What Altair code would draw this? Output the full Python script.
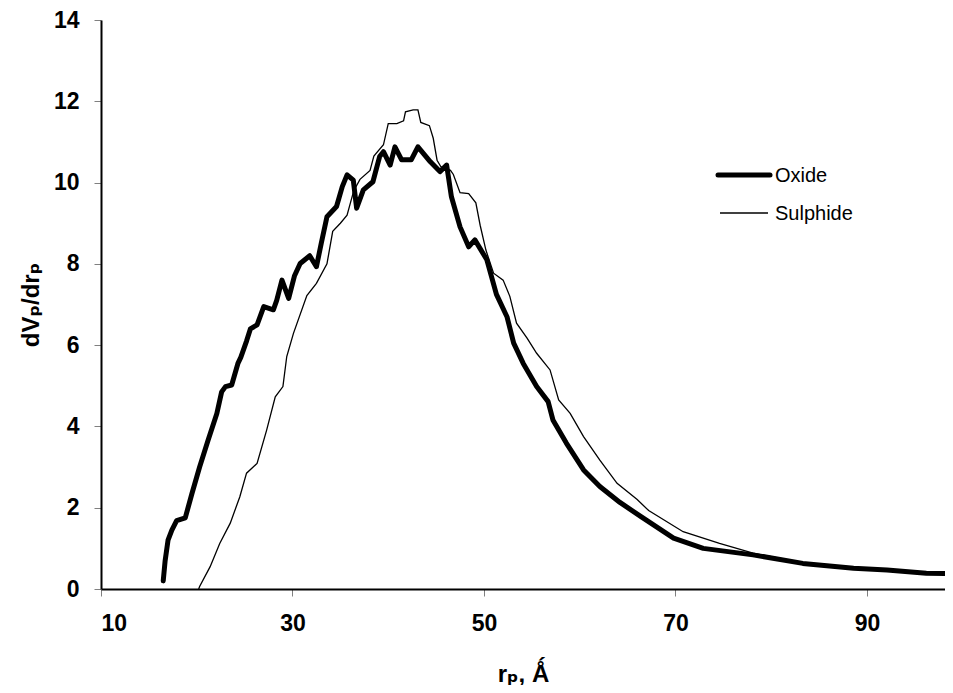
import altair as alt
import pandas as pd

# Oxide (thick line)
oxide_r = [16.5, 16.7, 17.0, 17.4, 17.9, 18.8, 19.5, 20.3, 21.2, 22.1, 22.6, 23.0, 23.65, 24.3, 24.6,
           25.2, 25.6, 26.3, 27.0, 28.0, 28.35, 28.9, 29.6, 30.2, 30.8, 31.8, 32.5, 33.0, 33.6, 34.6,
           35.2, 35.7, 36.35, 36.7, 37.4, 38.4, 39.1, 39.5, 40.2, 40.7, 41.4, 42.4, 43.1, 44.4, 45.4,
           46.1, 46.6, 47.5, 48.4, 49.05, 50.3, 51.3, 52.4, 53.1, 54.1, 55.5, 56.7, 57.2, 58.6, 60.4,
           62.1, 64.2, 66.4, 69.8, 72.9, 78.1, 83.3, 88.6, 92.1, 96.2, 98.2]
oxide_v = [0.2, 0.7, 1.2, 1.45, 1.68, 1.75, 2.35, 3.0, 3.67, 4.32, 4.85, 4.98, 5.02, 5.55, 5.7,
           6.1, 6.4, 6.5, 6.95, 6.87, 7.1, 7.6, 7.15, 7.7, 8.01, 8.2, 7.93, 8.5, 9.16, 9.41,
           9.9, 10.19, 10.06, 9.37, 9.82, 10.02, 10.64, 10.76, 10.43, 10.88, 10.56, 10.56, 10.88, 10.51, 10.27,
           10.43, 9.65, 8.91, 8.42, 8.59, 8.1, 7.25, 6.7, 6.05, 5.55, 4.98, 4.61, 4.16, 3.59, 2.93,
           2.52, 2.13, 1.78, 1.25, 1.0, 0.84, 0.63, 0.51, 0.47, 0.39, 0.38]

# Sulphide (thin line)
sulph_r = [20.2, 20.3, 21.4, 22.4, 23.5, 24.5, 25.2, 26.3, 27.3, 28.2, 29.0, 29.4, 30.1, 31.5, 32.5,
           33.6, 34.2, 35.0, 35.7, 36.4, 37.05, 38.1, 38.5, 39.5, 40.0, 40.9, 41.6, 41.8, 42.6, 43.1,
           43.4, 44.3, 44.7, 45.1, 45.5, 46.5, 46.8, 47.5, 48.4, 49.15, 49.6, 50.2, 51.0, 52.0, 52.7,
           53.4, 54.5, 55.5, 56.9, 57.8, 59.0, 60.4, 62.1, 63.9, 66.0, 67.2, 70.8, 74.6, 76.4, 78.1,
           83.3, 88.6, 92.1, 96.2, 98.2]
sulph_v = [0.0, 0.06, 0.55, 1.12, 1.62, 2.27, 2.85, 3.09, 3.91, 4.73, 4.98, 5.72, 6.29, 7.22, 7.52,
           8.0, 8.8, 9.0, 9.2, 9.8, 10.08, 10.3, 10.65, 10.93, 11.45, 11.45, 11.52, 11.74, 11.79, 11.79,
           11.48, 11.4, 11.09, 10.55, 10.39, 10.3, 10.2, 9.75, 9.73, 9.5, 8.95, 8.34, 7.77, 7.6, 7.2,
           6.54, 6.17, 5.8, 5.39, 4.65, 4.32, 3.75, 3.17, 2.6, 2.2, 1.93, 1.41, 1.12, 1.0, 0.88,
           0.65, 0.52, 0.47, 0.39, 0.38]

x_ticks = [10, 30, 50, 70, 90]
y_ticks = [0, 2, 4, 6, 8, 10, 12, 14]
series_names = ["Oxide", "Sulphide"]

FONT = "Liberation Sans, Arial, DejaVu Sans"

ox_df = pd.DataFrame({"r": oxide_r, "v": oxide_v, "order": range(len(oxide_r))})
su_df = pd.DataFrame({"r": sulph_r, "v": sulph_v, "order": range(len(sulph_r))})

xs = alt.Scale(domain=[10, 98.15], nice=False, zero=False)
ys = alt.Scale(domain=[0, 14], nice=False)

x_enc = alt.X("r:Q", scale=xs, title="rₚ, Ǻ",
              axis=alt.Axis(values=x_ticks, format="d", grid=False, tickSize=7,
                            labelPadding=16, titlePadding=27))
y_enc = alt.Y("v:Q", scale=ys, title="dVₚ/drₚ",
              axis=alt.Axis(values=y_ticks, format="d", grid=False, tickSize=7,
                            labelPadding=15, titlePadding=10))

oxide = alt.Chart(ox_df).mark_line(color="black", strokeWidth=5, strokeCap="round",
                                   strokeJoin="round").encode(
    x=x_enc, y=y_enc, order="order:Q")
sulph = alt.Chart(su_df).mark_line(color="black", strokeWidth=1.3).encode(
    x="r:Q", y="v:Q", order="order:Q")

leg_ox_line = alt.Chart(pd.DataFrame({"s": [series_names[0]]})).mark_rule(
    color="black", strokeWidth=5, strokeCap="round").encode(
    x=alt.value(617), x2=alt.value(669), y=alt.value(155))
leg_su_line = alt.Chart(pd.DataFrame({"s": [series_names[1]]})).mark_rule(
    color="black", strokeWidth=1.3).encode(
    x=alt.value(619), x2=alt.value(667), y=alt.value(193))
leg_ox_txt = alt.Chart(pd.DataFrame({"s": [series_names[0]]})).mark_text(
    align="left", baseline="middle", fontSize=20, font=FONT, color="black").encode(
    x=alt.value(674), y=alt.value(156), text="s:N")
leg_su_txt = alt.Chart(pd.DataFrame({"s": [series_names[1]]})).mark_text(
    align="left", baseline="middle", fontSize=20, font=FONT, color="black").encode(
    x=alt.value(674), y=alt.value(194), text="s:N")

chart = alt.layer(oxide, sulph, leg_ox_line, leg_su_line, leg_ox_txt, leg_su_txt).properties(
    width=844, height=569,
    background="white",
    autosize=alt.AutoSizeParams(type="none"),
    padding={"left": 93, "top": 12, "right": 0, "bottom": 96},
).configure_view(stroke=None).configure_axis(
    domainColor="black", domainWidth=2, tickColor="#808080", tickWidth=1,
    labelFont=FONT, labelFontSize=23, labelFontWeight="bold", labelColor="black",
    titleFont=FONT, titleFontSize=24, titleFontWeight="bold", titleColor="black",
)

chart.save("out.html", embed_options={"renderer": "svg", "actions": False})
